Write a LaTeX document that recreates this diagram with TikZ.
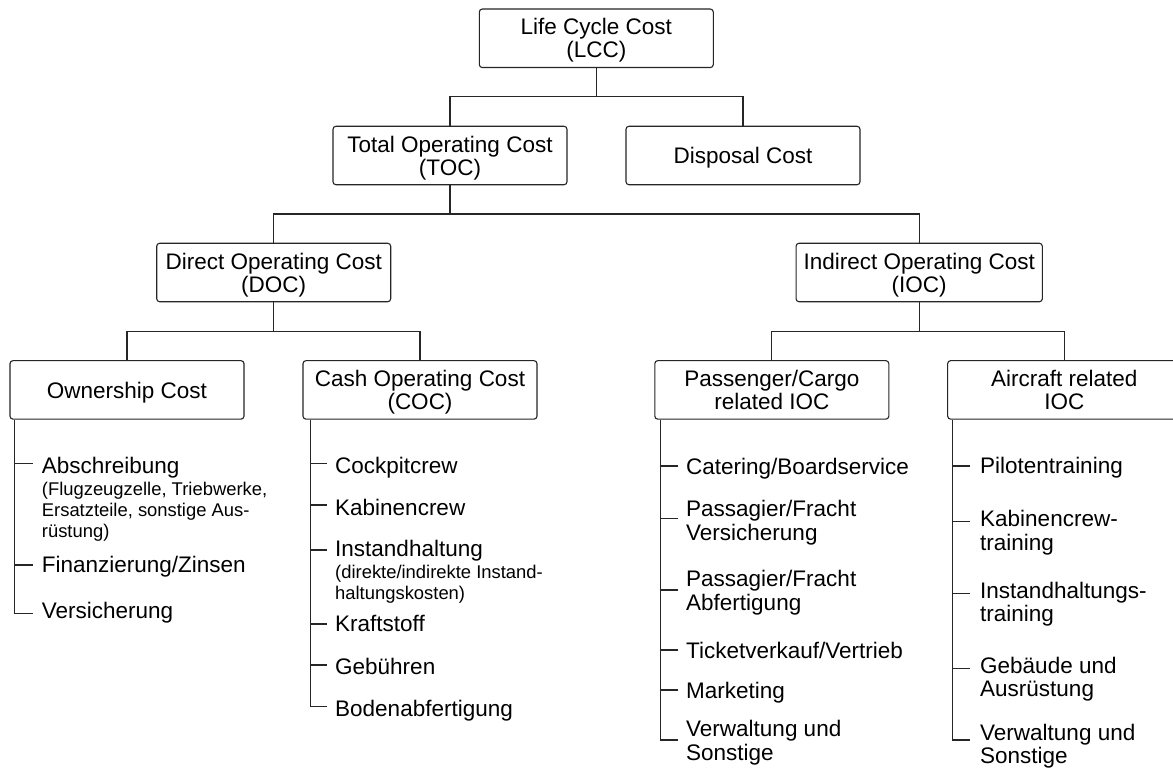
\documentclass[tikz,border=0pt]{standalone}
\usepackage{fontspec}
\setmainfont{Liberation Sans}
\usetikzlibrary{calc}

% struts that even out the ascent and descent of box captions
\newcommand\topstrut{\rule{0pt}{21.4pt}}
\newcommand\botstrut{\rule[-5pt]{0pt}{5pt}}

\tikzset{
  box/.style={draw=black!85, line width=1.1pt, rounded corners=3pt,
    minimum width=234pt, minimum height=58.5pt, inner sep=0pt,
    align=center, font=\fontsize{22.5}{23}\selectfont},
  link/.style={draw=black!85, line width=1.1pt},
  entry/.style={anchor=base west, inner sep=0pt, align=left,
    font=\fontsize{22.5}{23.5}\selectfont},
  note/.style={anchor=base west, inner sep=0pt, align=left,
    font=\fontsize{18.4}{21}\selectfont},
}

\begin{document}
\begin{tikzpicture}[x=1pt, y=-1pt]
\useasboundingbox (0,0) rectangle (1173,768);
\fill[white] (0,0) rectangle (1173,768);
\clip (0,0) rectangle (1173,768);

% cost hierarchy boxes
\node[box] (lcc)  at (596.3,38.3)  {\topstrut Life Cycle Cost\\(LCC)\botstrut};
\node[box] (toc)  at (450,155.5)   {\topstrut Total Operating Cost\\(TOC)\botstrut};
\node[box] (disp) at (743,155.5)   {\topstrut Disposal Cost\botstrut};
\node[box] (doc)  at (273.7,272.5) {\topstrut Direct Operating Cost\\(DOC)\botstrut};
\node[box, minimum width=246.3pt] (ioc) at (919.2,272.5) {\topstrut Indirect Operating Cost\\(IOC)\botstrut};
\node[box] (own)  at (127,389.9)   {\topstrut Ownership Cost\botstrut};
\node[box] (coc)  at (420,389.9)   {\topstrut Cash Operating Cost\\(COC)\botstrut};
\node[box] (pax)  at (771.8,389.9) {\topstrut Passenger/Cargo\\related IOC\botstrut};
\node[box, minimum width=233.3pt] (acr) at (1064.3,389.9) {\topstrut Aircraft related\\IOC\botstrut};

% tree connectors, bar halfway between parent and children
\coordinate (j1) at ($(lcc.south)!.5!(toc.north)$);
\draw[link] (lcc.south) -- (lcc.south |- j1);
\draw[link] (toc.north) |- (j1) -| (disp.north);

\coordinate (j2) at ($(toc.south)!.5!(doc.north)$);
\draw[link] (toc.south) -- (toc.south |- j2);
\draw[link] (doc.north) |- (j2) -| (ioc.north);

\coordinate (j3) at ($(doc.south)!.5!(own.north)$);
\draw[link] (doc.south) -- (doc.south |- j3);
\draw[link] (own.north) |- (j3) -| (coc.north);

\coordinate (j4) at ($(ioc.south)!.5!(pax.north)$);
\draw[link] (ioc.south) -- (ioc.south |- j4);
\draw[link] (pax.north) |- (j4) -| (acr.north);

% Ownership Cost items (multi-line nodes sit on their last baseline)
\node[entry] (absch)   at (41.7,473.3) {Abschreibung};
\node[note]  (abschn)  at (41.7,537)   {(Flugzeugzelle, Triebwerke,\\Ersatzteile, sonstige Aus-\\rüstung)};
\node[entry] (finanz)  at (41.7,572.7) {Finanzierung/Zinsen};
\node[entry] (versich) at (41.7,618.3) {Versicherung};
\draw[link] ([xshift=5.3pt]own.south west) |- ([xshift=-9pt,yshift=5pt]versich.base west);
\draw[link] ([xshift=-9pt,yshift=10pt]absch.base west) -- ++(-17.4pt,0);
\draw[link] ([xshift=-9pt,yshift=7.7pt]finanz.base west) -- ++(-17.4pt,0);

% Cash Operating Cost items
\node[entry] (cockpit) at (335,473.3) {Cockpitcrew};
\node[entry] (kabine)  at (335,515)   {Kabinencrew};
\node[entry] (instand) at (335,556.7) {Instandhaltung};
\node[note]  (instn)   at (335,599.3) {(direkte/indirekte Instand-\\haltungskosten)};
\node[entry] (kraft)   at (335,631.7) {Kraftstoff};
\node[entry] (gebuehr) at (335,674)   {Gebühren};
\node[entry] (boden)   at (335,716.7) {Bodenabfertigung};
\draw[link] ([xshift=8pt]coc.south west) |- ([xshift=-8.3pt,yshift=10pt]boden.base west);
\draw[link] ([xshift=-8.3pt,yshift=10pt]cockpit.base west) -- ++(-16pt,0);
\draw[link] ([xshift=-8.3pt,yshift=10pt]kabine.base west) -- ++(-16pt,0);
\draw[link] ([xshift=-8.3pt,yshift=6.7pt]instand.base west) -- ++(-16pt,0);
\draw[link] ([xshift=-8.3pt,yshift=7.7pt]kraft.base west) -- ++(-16pt,0);
\draw[link] ([xshift=-8.3pt,yshift=9pt]gebuehr.base west) -- ++(-16pt,0);

% Passenger/Cargo related IOC items
\node[entry] (cater)   at (686,474)   {Catering/Boardservice};
\node[entry] (paxvers) at (686,540.2) {Passagier/Fracht\\Versicherung};
\node[entry] (paxabf)  at (686,610.2) {Passagier/Fracht\\Abfertigung};
\node[entry] (ticket)  at (686,658.3) {Ticketverkauf/Vertrieb};
\node[entry] (market)  at (686,698.3) {Marketing};
\node[entry] (paxverw) at (686,760.2) {Verwaltung und\\Sonstige};
\draw[link] ([xshift=6.1pt]pax.south west) |- ([xshift=-7.7pt,yshift=20.2pt]paxverw.base west);
\draw[link] ([xshift=-7.7pt,yshift=8pt]cater.base west) -- ++(-17.6pt,0);
\draw[link] ([xshift=-7.7pt,yshift=21.9pt]paxvers.base west) -- ++(-17.6pt,0);
\draw[link] ([xshift=-7.7pt,yshift=20.2pt]paxabf.base west) -- ++(-17.6pt,0);
\draw[link] ([xshift=-7.7pt,yshift=8.3pt]ticket.base west) -- ++(-17.6pt,0);
\draw[link] ([xshift=-7.7pt,yshift=8.3pt]market.base west) -- ++(-17.6pt,0);

% Aircraft related IOC items
\node[entry] (pilot)    at (980,473.3) {Pilotentraining};
\node[entry] (kabtrain) at (980,550.2) {Kabinencrew-\\training};
\node[entry] (insttr)   at (980,621.5) {Instandhaltungs-\\training};
\node[entry] (gebaeude) at (980,696.5) {Gebäude und\\Ausrüstung};
\node[entry] (acrverw)  at (980,763.5) {Verwaltung und\\Sonstige};
\draw[link] ([xshift=5.05pt]acr.south west) |- ([xshift=-10pt,yshift=23.5pt]acrverw.base west);
\draw[link] ([xshift=-10pt,yshift=7.3pt]pilot.base west) -- ++(-17.3pt,0);
\draw[link] ([xshift=-10pt,yshift=28.5pt]kabtrain.base west) -- ++(-17.3pt,0);
\draw[link] ([xshift=-10pt,yshift=28.2pt]insttr.base west) -- ++(-17.3pt,0);
\draw[link] ([xshift=-10pt,yshift=28.2pt]gebaeude.base west) -- ++(-17.3pt,0);
\end{tikzpicture}
\end{document}
